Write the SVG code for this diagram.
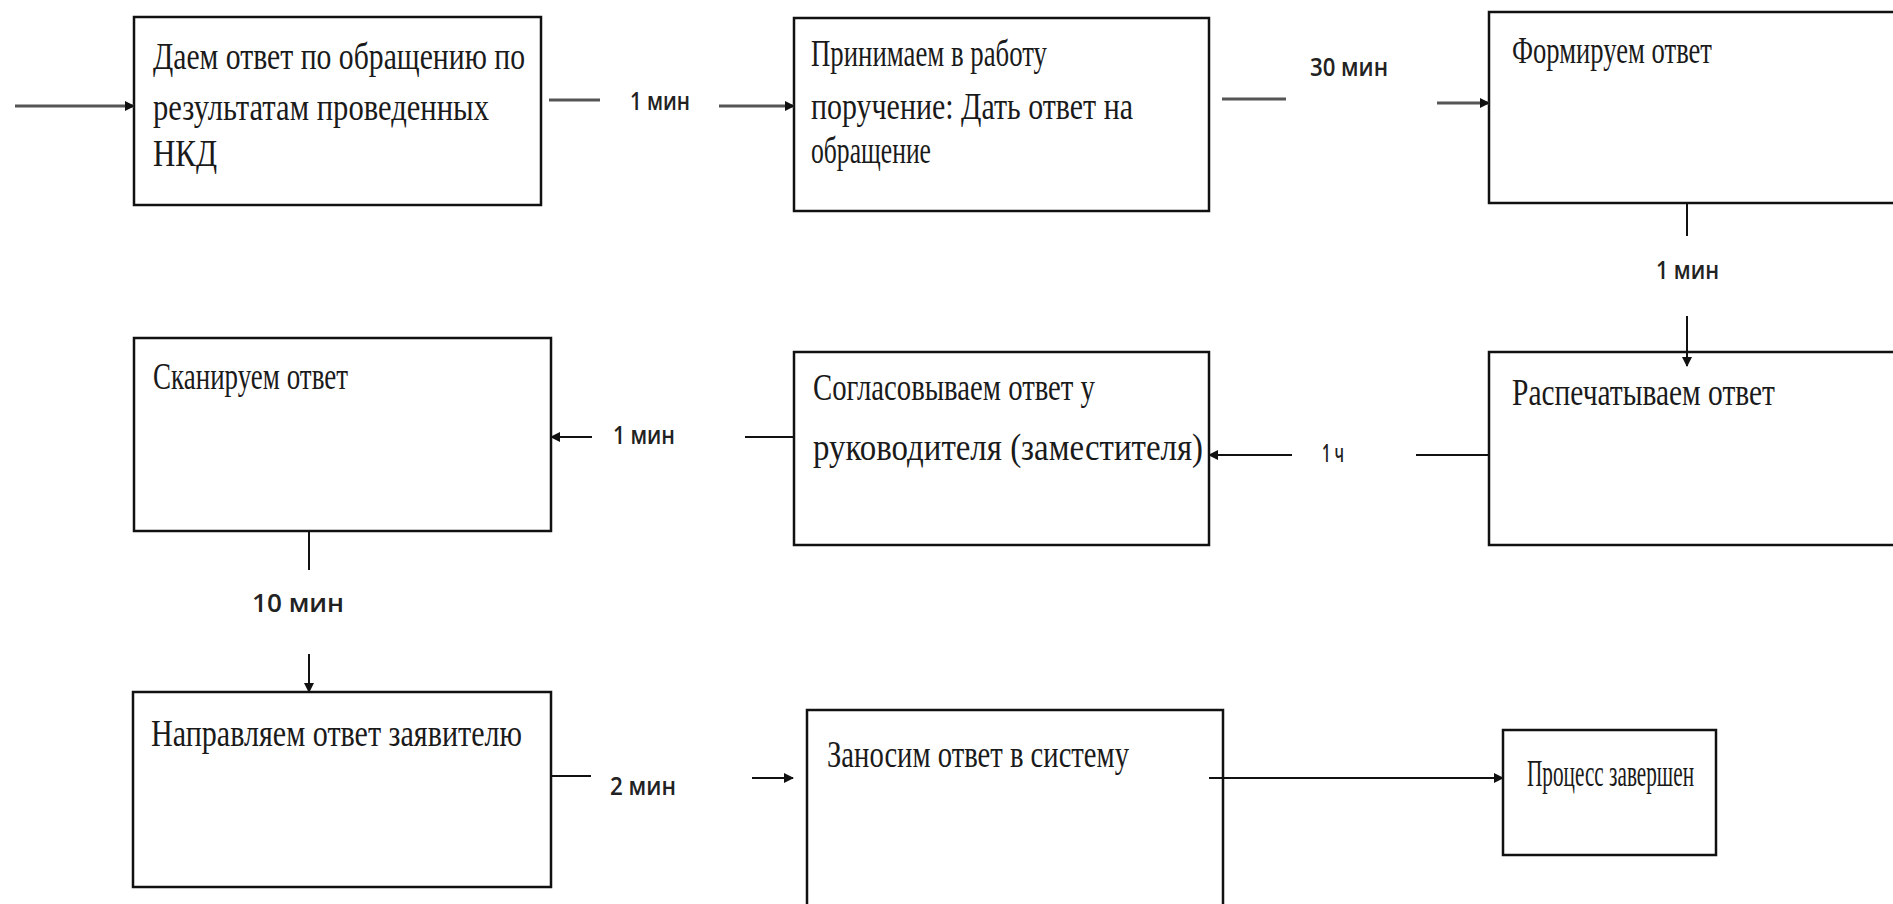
<svg xmlns="http://www.w3.org/2000/svg" width="1893" height="904" viewBox="0 0 1893 904">
  <defs>
    <style>
      .box { fill: #ffffff; stroke: #111111; stroke-width: 2.5; }
      .txt { font-family: "Liberation Serif", "Times New Roman", serif; font-size: 38px; fill: #1a1a1a; }
      .lbl { font-family: "Open Sans", "Liberation Sans", sans-serif; font-size: 25px; font-weight: 600; fill: #222222; }
      .ln { stroke: #111111; stroke-width: 2; fill: none; }
      .ln-g { stroke: #555555; stroke-width: 3.2; fill: none; }
    </style>
    <marker id="ah" viewBox="0 0 10 10" refX="9" refY="5" markerWidth="11" markerHeight="10" markerUnits="userSpaceOnUse" orient="auto">
      <path d="M0,0 L10,5 L0,10 Z" fill="#111111"/>
    </marker>
  </defs>
  <rect width="1893" height="904" fill="#ffffff"/>

  <g id="n1">
    <rect class="box" x="134" y="17" width="407" height="188"/>
    <text class="txt" x="153" y="69" textLength="372" lengthAdjust="spacingAndGlyphs">Даем ответ по обращению по</text>
    <text class="txt" x="153" y="120" textLength="336" lengthAdjust="spacingAndGlyphs">результатам проведенных</text>
    <text class="txt" x="153" y="166" textLength="64" lengthAdjust="spacingAndGlyphs">НКД</text>
  </g>

  <g id="n2">
    <rect class="box" x="794" y="18" width="415" height="193"/>
    <text class="txt" x="811" y="66" textLength="236" lengthAdjust="spacingAndGlyphs">Принимаем в работу</text>
    <text class="txt" x="811" y="119" textLength="322" lengthAdjust="spacingAndGlyphs">поручение: Дать ответ на</text>
    <text class="txt" x="811" y="163" textLength="120" lengthAdjust="spacingAndGlyphs">обращение</text>
  </g>

  <g id="n3">
    <rect class="box" x="1489" y="12" width="420" height="191"/>
    <text class="txt" x="1512" y="63" textLength="200" lengthAdjust="spacingAndGlyphs">Формируем ответ</text>
  </g>

  <g id="n4">
    <rect class="box" x="134" y="338" width="417" height="193"/>
    <text class="txt" x="153" y="389" textLength="195" lengthAdjust="spacingAndGlyphs">Сканируем ответ</text>
  </g>

  <g id="n5">
    <rect class="box" x="794" y="352" width="415" height="193"/>
    <text class="txt" x="813" y="400" textLength="282" lengthAdjust="spacingAndGlyphs">Согласовываем ответ у</text>
    <text class="txt" x="813" y="460" textLength="390" lengthAdjust="spacingAndGlyphs">руководителя (заместителя)</text>
  </g>

  <g id="n6">
    <rect class="box" x="1489" y="352" width="420" height="193"/>
    <text class="txt" x="1512" y="405" textLength="263" lengthAdjust="spacingAndGlyphs">Распечатываем ответ</text>
  </g>

  <g id="n7">
    <rect class="box" x="133" y="692" width="418" height="195"/>
    <text class="txt" x="151" y="746" textLength="371" lengthAdjust="spacingAndGlyphs">Направляем ответ заявителю</text>
  </g>

  <g id="n8">
    <rect class="box" x="807" y="710" width="416" height="210"/>
    <text class="txt" x="827" y="767" textLength="302" lengthAdjust="spacingAndGlyphs">Заносим ответ в систему</text>
  </g>

  <g id="n9">
    <rect class="box" x="1503" y="730" width="213" height="125"/>
    <text class="txt" x="1527" y="786" textLength="167" lengthAdjust="spacingAndGlyphs">Процесс завершен</text>
  </g>

  <!-- connectors, drawn over the boxes -->
  <g id="connectors">
    <!-- entry -->
    <line class="ln-g" x1="15" y1="106" x2="134" y2="106" marker-end="url(#ah)"/>
    <!-- box1 -> box2 -->
    <line class="ln-g" x1="549" y1="100" x2="600" y2="100"/>
    <text class="lbl" x="630" y="110" textLength="60" lengthAdjust="spacingAndGlyphs">1 мин</text>
    <line class="ln-g" x1="719" y1="106" x2="794" y2="106" marker-end="url(#ah)"/>
    <!-- box2 -> box3 -->
    <line class="ln-g" x1="1222" y1="99" x2="1286" y2="99"/>
    <text class="lbl" x="1310" y="76" textLength="78" lengthAdjust="spacingAndGlyphs">30 мин</text>
    <line class="ln-g" x1="1437" y1="103" x2="1489" y2="103" marker-end="url(#ah)"/>
    <!-- box3 -> box6 -->
    <line class="ln" x1="1687" y1="203" x2="1687" y2="236"/>
    <text class="lbl" x="1656" y="279" textLength="63" lengthAdjust="spacingAndGlyphs">1 мин</text>
    <line class="ln" x1="1687" y1="316" x2="1687" y2="366" marker-end="url(#ah)"/>
    <!-- box6 -> box5 -->
    <line class="ln" x1="1489" y1="455" x2="1416" y2="455"/>
    <text class="lbl" x="1322" y="462" textLength="22" lengthAdjust="spacingAndGlyphs">1 ч</text>
    <line class="ln" x1="1292" y1="455" x2="1209" y2="455" marker-end="url(#ah)"/>
    <!-- box5 -> box4 -->
    <line class="ln" x1="794" y1="437" x2="745" y2="437"/>
    <text class="lbl" x="613" y="444" textLength="62" lengthAdjust="spacingAndGlyphs">1 мин</text>
    <line class="ln" x1="592" y1="437" x2="551" y2="437" marker-end="url(#ah)"/>
    <!-- box4 -> box7 -->
    <line class="ln" x1="309" y1="531" x2="309" y2="570"/>
    <text class="lbl" x="252" y="612" textLength="92" lengthAdjust="spacingAndGlyphs">10  мин</text>
    <line class="ln" x1="309" y1="654" x2="309" y2="692" marker-end="url(#ah)"/>
    <!-- box7 -> box8 -->
    <line class="ln" x1="551" y1="776" x2="591" y2="776"/>
    <text class="lbl" x="610" y="795" textLength="66" lengthAdjust="spacingAndGlyphs">2 мин</text>
    <line class="ln" x1="752" y1="778" x2="793" y2="778" marker-end="url(#ah)"/>
    <!-- box8 -> box9 -->
    <line class="ln" x1="1209" y1="778" x2="1503" y2="778" marker-end="url(#ah)"/>
  </g>
</svg>
